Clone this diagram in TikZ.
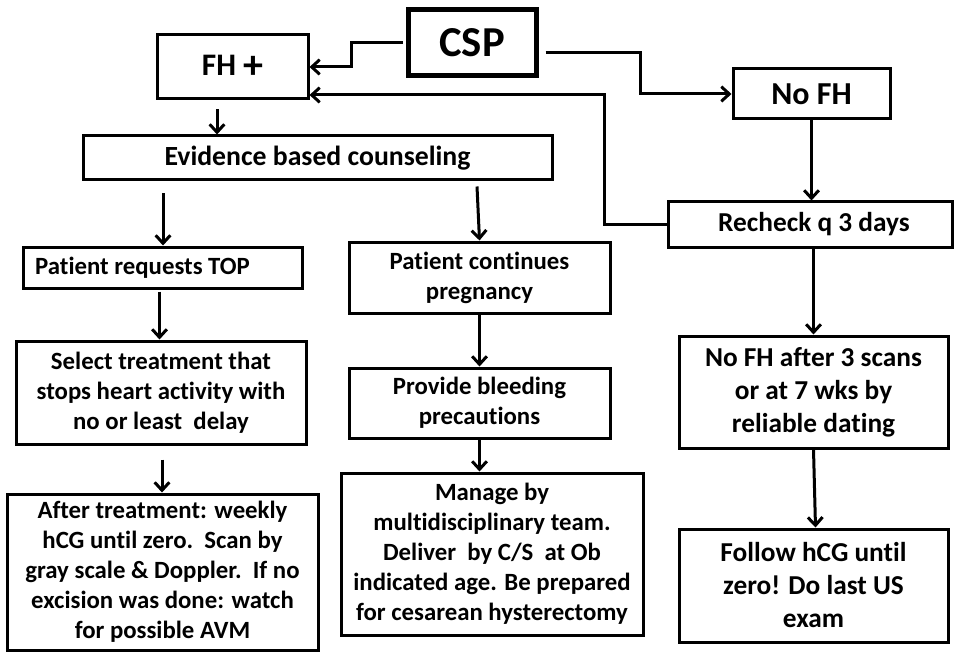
\documentclass[tikz,border=0pt]{standalone}
\usepackage{fontspec}
\setmainfont{Carlito}[Ligatures={NoCommon}]
\usetikzlibrary{arrows.meta,calc}
\begin{document}
\begin{tikzpicture}[x=0.75pt,y=-0.75pt,
  box/.style={draw, line width=2.25pt, rectangle, align=center, inner sep=2pt},
  fa/.style={font=\fontsize{18.6pt}{22.5pt}\selectfont\bfseries},
  fb/.style={font=\fontsize{20.5pt}{24.75pt}\selectfont\bfseries},
  arr/.style={line width=2.25pt, -{Straight Barb[length=6pt,width=11pt,line width=2.25pt]}},
  ln/.style={line width=2.25pt}]
\useasboundingbox[fill=white] (0,0) rectangle (955,652);

\node[box, line width=3.75pt, minimum width=96pt, minimum height=49.5pt,
  font=\fontsize{32pt}{36pt}\selectfont\bfseries] (csp) at (472,43) {CSP};
\node[box, minimum width=113.25pt, minimum height=48pt,
  font=\fontsize{23.5pt}{26pt}\selectfont\bfseries] (fh) at (232.5,67) {FH\ \raisebox{-2pt}{\fontsize{30pt}{32pt}\selectfont+}};
\node[box, minimum width=117.75pt, minimum height=37.5pt,
  font=\fontsize{24pt}{28pt}\selectfont\bfseries] (nofh) at (811.5,94) {No FH};
\node[box, minimum width=351.75pt, minimum height=33pt,
  font=\fontsize{20.8pt}{24pt}\selectfont\bfseries] (ev) at (317.5,158) {Evidence based counseling};
\node[box, fb, minimum width=213pt, minimum height=33.75pt] (rc) at (810,224.5) {\hspace*{6pt}Recheck q 3 days};
\node[box, fa, minimum width=209.25pt, minimum height=30.75pt] (top) at (162.5,267.5) {Patient requests TOP\hspace*{30pt}};
\node[box, fa, minimum width=195.75pt, minimum height=53.25pt] (cont) at (479.5,277.5) {Patient continues\\pregnancy};
\node[box, fa, minimum width=217.5pt, minimum height=77.25pt] (sel) at (161,392.5) {Select treatment that\\stops heart activity with\\no or least\ \ delay};
\node[box, fa, minimum width=195.75pt, minimum height=52.5pt] (prov) at (479.5,403) {Provide bleeding\\precautions};
\node[box, fa, minimum width=233.25pt, minimum height=117pt] (after) at (162.5,572) {After treatment: weekly\\hCG until zero.\ \ Scan by\\gray scale \& Doppler.\ \ If no\\excision was done: watch\\for possible AVM};
\node[box, fa, minimum width=226.5pt, minimum height=121.5pt] (man) at (492,554) {Manage by\\multidisciplinary team.\\Deliver\ \ by C/S\ \ at Ob\\indicated age. Be prepared\\for cesarean hysterectomy};
\node[box, fb, minimum width=201.75pt, minimum height=84pt] (nfa) at (813.5,392) {No FH after 3 scans\\or at 7 wks by\\reliable dating};
\node[box, fb, minimum width=201.75pt, minimum height=84.75pt] (fol) at (813.5,585.5) {Follow hCG until\\zero! Do last US\\exam};

% elbow connectors
\draw[arr] ([xshift=-2pt]csp.west) -- ++(-51,0) |- (fh.east);
\coordinate (c1) at ([shift={(7,10)}]csp.east);
\draw[arr] (c1) -- ++(95,0) |- (nofh.west);
\draw[arr] (rc.west) -- ++(-62,0) |- ([shift={(0,28)}]fh.east);

% vertical arrows
\coordinate (a1) at ([shift={(-15.5,9)}]fh.south);
\draw[arr] (a1) -- (a1 |- ev.north);
\coordinate (a2) at ([shift={(-154.5,12)}]ev.south);
\draw[arr] (a2) -- (a2 |- top.north);
\coordinate (a3) at ([shift={(159.5,5)}]ev.south);
\draw[arr] (a3) -- (cont.north);
\draw[arr] (nofh.south) -- (nofh.south |- rc.north);
\coordinate (a4) at ([shift={(-3,2)}]top.south);
\draw[arr] (a4) -- (a4 |- sel.north);
\coordinate (a5) at ([shift={(1,14)}]sel.south);
\draw[arr] (a5) -- (a5 |- after.north);
\draw[arr] (cont.south) -- (prov.north);
\draw[arr] (prov.south) -- (prov.south |- man.north);
\draw[arr] (nfa.north |- rc.south) -- (nfa.north);
\draw[arr] (nfa.south) -- ([xshift=1.5pt]fol.north);
\end{tikzpicture}
\end{document}
